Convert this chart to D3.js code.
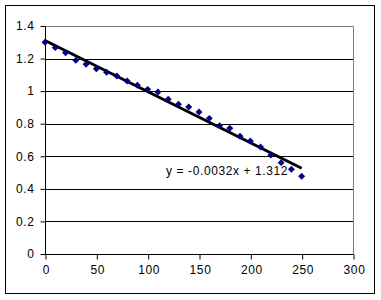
<!DOCTYPE html>
<html><head><meta charset="utf-8">
<script src="https://cdn.jsdelivr.net/npm/d3@7"></script>
<style>body{margin:0;background:#fff}svg{display:block}text{font-family:"Liberation Sans",Arial,sans-serif;font-size:12px;fill:#000;letter-spacing:0.6px}</style>
</head><body><svg id="c" width="381" height="300"></svg>
<script>
const xValues = [0,10,20,30,40,50,60,70,80,90,100,110,120,130,140,150,160,170,180,190,200,210,220,230,240,250];
const yValues = [1.300,1.267,1.236,1.189,1.165,1.138,1.116,1.093,1.062,1.036,1.011,0.995,0.950,0.919,0.903,0.872,0.833,0.788,0.772,0.723,0.694,0.657,0.608,0.561,0.520,0.477];
const xTicks = [0,50,100,150,200,250,300];
const yTicks = [0,0.2,0.4,0.6,0.8,1,1.2,1.4];
const trendLabel = "y = -0.0032x + 1.312";

const svg = d3.select("#c");
const L=45,R=353,T=26,B=254;
const x = d3.scaleLinear().domain([0,300]).range([L,R]);
const y = d3.scaleLinear().domain([0,1.4]).range([B,T]);

svg.append("rect").attr("x",5.5).attr("y",5.5).attr("width",369).attr("height",288).attr("fill","#fff").attr("stroke","#000");

svg.append("g").selectAll("line").data(yTicks.filter(d=>d>0&&d<1.4)).join("line")
  .attr("x1",L).attr("x2",R).attr("y1",d=>Math.round(y(d))+0.5).attr("y2",d=>Math.round(y(d))+0.5)
  .attr("stroke","#000");
svg.append("path").attr("d",`M${L},${T+0.5}H${R+0.5}V${B}`).attr("fill","none").attr("stroke","#808080");

const yAxis = svg.append("g").attr("transform",`translate(${L+0.5},0)`)
  .call(d3.axisLeft(y).tickValues(yTicks).tickSize(5).tickPadding(6).tickFormat(d=>String(+d.toFixed(1))));
const xAxis = svg.append("g").attr("transform",`translate(0,${B+0.5})`)
  .call(d3.axisBottom(x).tickValues(xTicks).tickSize(5).tickPadding(6));
[yAxis,xAxis].forEach(g=>{
  g.select(".domain").attr("stroke","#000");
  g.selectAll(".tick line").attr("stroke","#000");
  g.selectAll("text").style("font-family",'"Liberation Sans",Arial,sans-serif').style("font-size","12px").attr("fill","#000");
});
yAxis.select(".domain").attr("d",`M0,${T}V${B}`);
xAxis.select(".domain").attr("d",`M${L},0H${R+0.5}`);
xAxis.selectAll(".tick line").attr("transform","translate(0.5,0)");
xAxis.selectAll(".tick text").attr("dx",1);

const mx=d3.mean(xValues), my=d3.mean(yValues);
const slope=d3.sum(xValues,(v,i)=>(v-mx)*(yValues[i]-my))/d3.sum(xValues,v=>(v-mx)*(v-mx));
const icpt=my-slope*mx;
const xr=d3.extent(xValues);
svg.append("line").attr("x1",x(xr[0])).attr("y1",y(icpt+slope*xr[0])).attr("x2",x(xr[1])).attr("y2",y(icpt+slope*xr[1]))
  .attr("stroke","#000").attr("stroke-width",3);

svg.append("g").selectAll("path").data(xValues).join("path")
  .attr("d",d3.symbol(d3.symbolSquare,24))
  .attr("transform",(d,i)=>`translate(${x(d)},${y(yValues[i])}) rotate(45)`)
  .attr("fill","#000080");

svg.append("text").attr("x",166).attr("y",175).text(trendLabel);
</script></body></html>
